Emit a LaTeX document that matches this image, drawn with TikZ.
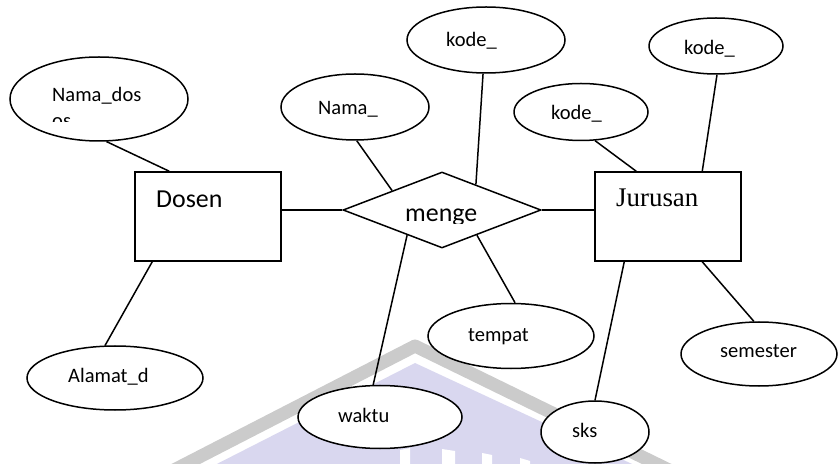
\documentclass[tikz,border=0pt]{standalone}
\usepackage{fontspec}
\setmainfont{Carlito}
\newfontfamily\serifjur{Liberation Serif}
\usetikzlibrary{shapes.geometric,calc}
\definecolor{wmgray}{HTML}{CBCBCB}
\definecolor{wmlav}{HTML}{D9D7EF}
\begin{document}
\begin{tikzpicture}[x=1bp,y=-1bp,
  attr/.style={draw,ellipse,line width=1.5bp,inner sep=0pt,fill=white},
  ent/.style={draw,rectangle,line width=1.5bp,inner sep=0pt,fill=white},
  rel/.style={draw,diamond,line width=1.5bp,inner sep=0pt,fill=white},
  conn/.style={line width=1.5bp},
  lbl/.style={anchor=base west,inner sep=0pt,font=\fontsize{20.6}{26}\selectfont},
  big/.style={anchor=base west,inner sep=0pt,font=\fontsize{26}{31}\selectfont}]
\useasboundingbox (0,0) rectangle (838,464);
% watermark
\begin{scope}
  \clip (0,0) rectangle (838,464);
  \fill[wmlav] (205,470) -- (415,363) -- (645,470) -- cycle;
  \draw[wmgray,line width=13bp,line join=round] (174,470) -- (415,346) -- (669,470);
  \fill[white] (400,450) -- (410,448) -- (410,470) -- (400,470) -- cycle;
  \fill[white] (442,449) -- (455,451) -- (455,470) -- (442,470) -- cycle;
  \fill[white] (482,453) -- (492,455) -- (492,470) -- (482,470) -- cycle;
  \fill[white] (520,458) -- (530,461) -- (530,470) -- (520,470) -- cycle;
\end{scope}
% attributes
\node[attr,minimum width=178bp,minimum height=84bp] (nd) at (99,99) {};
\node[attr,minimum width=176bp,minimum height=64bp] (al) at (115,378) {};
\node[attr,minimum width=148bp,minimum height=66bp] (nm) at (355,107) {};
\node[attr,minimum width=158bp,minimum height=66bp] (kr) at (486,40) {};
\node[attr,minimum width=134bp,minimum height=57bp] (kj1) at (581,112) {};
\node[attr,minimum width=134bp,minimum height=56bp] (kj2) at (716,46) {};
\node[attr,minimum width=164bp,minimum height=63bp] (wk) at (380,417) {};
\node[attr,minimum width=166bp,minimum height=65bp] (tp) at (511,336) {};
\node[attr,minimum width=108bp,minimum height=62bp] (sk) at (595,432) {};
\node[attr,minimum width=156bp,minimum height=64bp] (sm) at (759,354) {};
% entities and relationship
\node[ent,minimum width=146bp,minimum height=89bp] (ds) at (208,216.5) {};
\node[ent,minimum width=146bp,minimum height=89bp] (jr) at (668,216.5) {};
\node[rel,minimum width=198bp,minimum height=76bp] (mg) at (442,210) {};
% connectors
\draw[conn] (nd.-80) -- ($(ds.north west)+(35,0)$);
\draw[conn] (al.107) -- ($(ds.south west)+(18,0)$);
\draw[conn] (ds.east |- mg.west) -- (mg.west);
\draw[conn] (nm.-87) -- ($(mg.west)!0.5!(mg.north)$);
\draw[conn] (kr.-95) -- ($(mg.north)!0.34!(mg.east)$);
\draw[conn] (wk.102) -- ($(mg.west)!0.65!(mg.south)$);
\draw[conn] (tp.83) -- ($(mg.south)!0.35!(mg.east)$);
\draw[conn] (mg.east) -- (jr.west |- mg.east);
\draw[conn] (kj1.-64) -- ($(jr.north west)+(42,0)$);
\draw[conn] (kj2.-88) -- ($(jr.north west)+(108,0)$);
\draw[conn] (sk.90) -- ($(jr.south west)+(30,0)$);
\draw[conn] (sm.99) -- ($(jr.south west)+(108,0)$);
% labels
\begin{scope}
  \clip (0,0) rectangle (838,122);
  \node[lbl] (tnd) at (52,102) {\begin{tabular}[t]{@{}l@{}}Nama\_dos\\os\end{tabular}};
\end{scope}
\node[lbl] (tnm) at (318,115) {Nama\_};
\node[lbl] (tkr) at (446,47) {kode\_};
\node[lbl] (tkj1) at (551,120) {kode\_};
\node[lbl] (tkj2) at (684,55) {kode\_};
\node[big] (tds) at (156,208) {Dosen};
\begin{scope}
  \clip (0,0) rectangle (838,224);
  \node[big] (tmg) at (405,222) {menge};
\end{scope}
\node[big,font=\serifjur\fontsize{27}{32}\selectfont] (tjr) at (616,207) {Jurusan};
\node[lbl] (ttp) at (468,342) {tempat};
\node[lbl] (tsm) at (720,358) {semester};
\node[lbl] (tsk) at (572,437) {sks};
\node[lbl] (twk) at (338,422) {waktu};
\node[lbl] (tal) at (68,383) {Alamat\_d};
\end{tikzpicture}
\end{document}
